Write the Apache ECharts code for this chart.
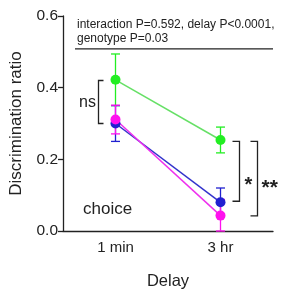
<!DOCTYPE html>
<html>
<head>
<meta charset="utf-8">
<script src="https://cdn.jsdelivr.net/npm/echarts@6/dist/echarts.min.js"></script>
<style>
  html, body { margin: 0; padding: 0; background: #fff; }
  #chart-wrapper { width: 283px; height: 295px; }
</style>
</head>
<body>
<div id="chart-wrapper"></div>
<script>
const delays = ["1 min", "3 hr"];
const yTicks = [0, 0.2, 0.4, 0.6];

const greenMean = [0.422, 0.254];
const greenErr = [0.072, 0.036];
const blueMean = [0.300, 0.080];
const blueErr = [0.050, 0.040];
const pinkMean = [0.311, 0.043];
const pinkErr = [0.040, 0.045];

const statsLine1 = "interaction P=0.592, delay P<0.0001,";
const statsLine2 = "genotype P=0.03";

const FONT = "Liberation Sans, Arial, sans-serif";

const groups = [
  { name: "green", mean: greenMean, err: greenErr, dot: "#22ee22", line: "#66e066" },
  { name: "blue", mean: blueMean, err: blueErr, dot: "#2020d0", line: "#3333cc" },
  { name: "pink", mean: pinkMean, err: pinkErr, dot: "#ff10ee", line: "#ee30ee" }
];

const chartDom = document.getElementById("chart-wrapper");
const chart = echarts.init(chartDom);

const errorSeries = (g) => ({
  type: "custom",
  silent: true,
  z: 1,
  data: g.mean.map((m, i) => [i, Math.max(0, m - g.err[i]), m + g.err[i]]),
  renderItem: (params, api) => {
    const lo = api.coord([api.value(0), api.value(1)]);
    const hi = api.coord([api.value(0), api.value(2)]);
    const w = 4.5;
    const style = { stroke: g.dot, lineWidth: 1.3 };
    return {
      type: "group",
      children: [
        { type: "line", shape: { x1: lo[0], y1: lo[1], x2: hi[0], y2: hi[1] }, style },
        { type: "line", shape: { x1: hi[0] - w, y1: hi[1], x2: hi[0] + w, y2: hi[1] }, style },
        { type: "line", shape: { x1: lo[0] - w, y1: lo[1], x2: lo[0] + w, y2: lo[1] }, style }
      ]
    };
  }
});

const lineSeries = (g) => ({
  type: "line",
  z: 3,
  data: g.mean,
  symbol: "circle",
  symbolSize: 10,
  lineStyle: { color: g.line, width: 1.5 },
  itemStyle: { color: g.dot },
  emphasis: { disabled: true }
});

const series = [];
groups.forEach((g) => series.push(errorSeries(g)));
groups.forEach((g) => series.push(lineSeries(g)));

const option = {
  animation: false,
  backgroundColor: "#fff",
  textStyle: { fontFamily: FONT },
  grid: { left: 63, right: 10, top: 16, bottom: 63 },
  xAxis: {
    type: "category",
    data: delays,
    name: "Delay",
    nameLocation: "middle",
    nameGap: 42,
    nameTextStyle: { fontSize: 16.5, color: "#222", fontFamily: FONT },
    axisLine: { lineStyle: { color: "#222", width: 1.3 } },
    axisTick: { alignWithLabel: true, length: 5, lineStyle: { color: "#222", width: 1.3 } },
    axisLabel: { fontSize: 15, color: "#222", margin: 9, fontFamily: FONT }
  },
  yAxis: {
    type: "value",
    min: yTicks[0],
    max: yTicks[yTicks.length - 1],
    interval: 0.2,
    name: "Discrimination ratio",
    nameLocation: "middle",
    nameGap: 38,
    nameTextStyle: { fontSize: 17, color: "#222", fontFamily: FONT },
    axisLine: { show: true, lineStyle: { color: "#222", width: 1.3 } },
    axisTick: { show: true, length: 5, lineStyle: { color: "#222", width: 1.3 } },
    axisLabel: { fontSize: 15.5, color: "#222", margin: 5, fontFamily: FONT, formatter: (v) => v.toFixed(1) },
    splitLine: { show: false }
  },
  series: series
};

chart.setOption(option);

// annotations placed from data coordinates
const px = (x, y) => chart.convertToPixel({ gridIndex: 0 }, [x, y]);
const stroke = { stroke: "#222", lineWidth: 1.3, fill: null };

const bracket = (xPix, yTop, yBot, tick, dir) => ({
  type: "polyline",
  shape: { points: [[xPix + dir * tick, yTop], [xPix, yTop], [xPix, yBot], [xPix + dir * tick, yBot]] },
  style: stroke
});

const p0top = px(0, 0.42);
const p0bot = px(0, 0.30);
const p1g = px(1, 0.25);
const p1b = px(1, 0.083);
const p1p = px(1, 0.042);
const topLine = px(0, 0.508);

chart.setOption({
  graphic: [
    { type: "text", left: 77, top: 18, style: { text: statsLine1 + "\n" + statsLine2, font: "12px " + FONT, fill: "#222", lineHeight: 14 } },
    { type: "line", shape: { x1: 75, y1: topLine[1], x2: 273, y2: topLine[1] }, style: stroke },
    bracket(p0top[0] - 17, p0top[1], p0bot[1], 5, 1),
    { type: "text", left: 79, top: p0top[1] + 14, style: { text: "ns", font: "16px " + FONT, fill: "#222" } },
    bracket(p1g[0] + 19, p1g[1], p1b[1], 7, -1),
    { type: "text", left: p1g[0] + 24, top: p1g[1] + 34, style: { text: "*", font: "bold 20px " + FONT, fill: "#222" } },
    bracket(p1g[0] + 37, p1g[1], p1p[1], 7, -1),
    { type: "text", left: p1g[0] + 41, top: p1g[1] + 36, style: { text: "**", font: "bold 21px " + FONT, fill: "#222" } },
    { type: "text", left: 83, top: 201, style: { text: "choice", font: "17px " + FONT, fill: "#222" } }
  ]
});
</script>
</body>
</html>
